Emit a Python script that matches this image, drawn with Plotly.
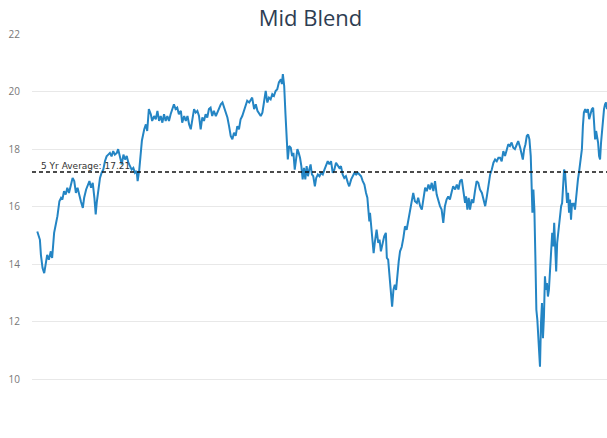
import pandas as pd
import plotly.graph_objects as go

start_date = "2016-01-20"
day_offsets = [
    0, 8, 11, 16, 21, 26, 30, 35, 41, 45, 51, 56, 61, 67, 72, 76, 81, 86, 91, 96,
    101, 107, 112, 117, 122, 127, 132, 138, 142, 148, 153, 158, 163, 168, 173, 177, 180, 185, 190, 195,
    200, 205, 210, 215, 220, 225, 230, 235, 241, 245, 251, 256, 261, 266, 271, 276, 281, 286, 291, 296,
    301, 304, 309, 313, 317, 324, 329, 333, 338, 344, 348, 354, 359, 364, 369, 374, 379, 384, 389, 394,
    399, 404, 409, 414, 419, 424, 429, 435, 439, 445, 450, 455, 460, 465, 470, 475, 480, 485, 490, 495,
    500, 505, 510, 515, 520, 525, 530, 535, 541, 545, 551, 556, 561, 566, 571, 576, 581, 586, 591, 596,
    601, 606, 611, 616, 621, 626, 632, 636, 642, 647, 651, 657, 662, 667, 672, 677, 682, 687, 692, 697,
    702, 707, 712, 717, 722, 727, 732, 738, 741, 744, 748, 752, 756, 759, 763, 768, 772, 776, 780, 784,
    788, 792, 796, 800, 804, 808, 812, 816, 820, 824, 828, 832, 836, 841, 845, 850, 855, 860, 865, 870,
    875, 880, 885, 890, 895, 900, 905, 910, 915, 920, 925, 930, 935, 941, 945, 951, 956, 961, 966, 971,
    976, 981, 986, 991, 996, 1000, 1003, 1006, 1008, 1012, 1016, 1019, 1023, 1028, 1033, 1037, 1041, 1047, 1051, 1056,
    1059, 1063, 1066, 1069, 1072, 1075, 1079, 1083, 1087, 1091, 1095, 1099, 1104, 1109, 1114, 1119, 1124, 1129, 1134, 1139,
    1144, 1150, 1154, 1160, 1165, 1170, 1175, 1180, 1185, 1190, 1195, 1200, 1205, 1210, 1215, 1220, 1225, 1230, 1235, 1240,
    1245, 1250, 1256, 1260, 1266, 1271, 1276, 1281, 1286, 1291, 1296, 1299, 1303, 1307, 1311, 1316, 1321, 1326, 1331, 1336,
    1341, 1347, 1351, 1357, 1362, 1367, 1372, 1377, 1382, 1387, 1392, 1397, 1402, 1407, 1412, 1417, 1422, 1427, 1432, 1437,
    1442, 1447, 1453, 1457, 1463, 1468, 1471, 1475, 1479, 1483, 1487, 1491, 1495, 1498, 1500, 1503, 1506, 1509, 1512, 1515,
    1518, 1521, 1523, 1526, 1529, 1532, 1535, 1538, 1541, 1544, 1547, 1550, 1553, 1557, 1560, 1563, 1566, 1569, 1572, 1575,
    1578, 1581, 1584, 1587, 1590, 1593, 1596, 1599, 1602, 1605, 1608, 1611, 1614, 1617, 1620, 1623, 1626, 1629, 1632, 1635,
    1638, 1641, 1644, 1647, 1650, 1653, 1656, 1660, 1663, 1668, 1672, 1676, 1680, 1684, 1687, 1690, 1693, 1696, 1699, 1702,
    1705, 1708, 1711, 1714, 1717, 1720, 1723, 1726,
]
pe_values = [
    15.14, 14.85, 14.33, 13.87, 13.69, 13.98, 14.33, 14.16, 14.45, 14.22, 15.09, 15.38, 15.67, 16.19, 16.31, 16.25, 16.54, 16.42, 16.66, 16.48,
    16.77, 17.0, 16.89, 16.48, 16.66, 16.36, 16.19, 15.96, 16.31, 16.6, 16.77, 16.89, 16.66, 16.83, 16.31, 15.73, 16.13, 16.66, 17.0, 17.18,
    17.29, 17.58, 17.75, 17.81, 17.87, 17.75, 17.93, 17.81, 17.87, 18.0, 17.76, 17.47, 17.81, 17.64, 17.76, 17.53, 17.41, 17.29, 17.35, 17.18,
    17.24, 16.89, 17.29, 17.9, 18.3, 18.69, 18.86, 18.63, 19.39, 19.21, 18.98, 19.15, 19.04, 19.33, 18.98, 19.15, 18.92, 19.21, 18.98, 19.15,
    18.98, 19.21, 19.39, 19.56, 19.39, 19.44, 19.21, 19.33, 18.92, 19.15, 18.98, 19.15, 18.86, 18.69, 19.04, 19.39, 19.27, 19.33, 19.15, 18.69,
    19.10, 18.98, 19.21, 19.10, 19.39, 19.44, 19.15, 19.33, 19.15, 19.27, 19.39, 19.56, 19.62, 19.44, 19.21, 19.10, 18.80, 18.46, 18.34, 18.57,
    18.46, 18.80, 18.69, 19.04, 19.15, 19.33, 19.62, 19.68, 19.62, 19.73, 19.79, 19.39, 19.56, 19.33, 19.21, 19.15, 19.27, 19.73, 20.02, 19.62,
    19.79, 19.73, 19.91, 19.85, 20.02, 20.08, 20.32, 20.43, 20.26, 20.61, 20.20, 19.2, 18.15, 17.64, 18.11, 18.05, 17.76, 17.87, 17.29, 17.76,
    18.0, 17.87, 17.70, 17.41, 16.95, 17.35, 16.95, 17.41, 17.06, 17.29, 17.47, 17.12, 17.06, 16.71, 17.0, 17.12, 17.06, 17.18, 17.12, 17.29,
    17.41, 17.58, 17.47, 17.58, 17.18, 17.29, 17.53, 17.41, 17.35, 17.41, 17.12, 17.0, 17.06, 16.83, 16.71, 16.95, 17.06, 17.18, 17.12, 17.18,
    17.12, 17.06, 16.89, 16.77, 16.48, 16.31, 15.9, 15.49, 15.79, 15.20, 14.51, 14.39, 14.80, 15.20, 14.74, 14.86, 14.45, 14.74, 14.97, 15.09,
    14.22, 14.16, 13.81, 13.46, 13.0, 12.53, 13.11, 13.29, 13.11, 13.69, 14.10, 14.45, 14.6, 14.91, 15.32, 15.20, 15.55, 15.79, 16.25, 16.48,
    16.19, 16.13, 16.31, 16.02, 15.90, 16.31, 16.66, 16.54, 16.77, 16.60, 16.83, 16.54, 16.89, 16.42, 16.19, 16.02, 15.90, 15.44, 16.02, 16.25,
    16.36, 16.25, 16.54, 16.71, 16.60, 16.77, 16.60, 16.89, 16.95, 16.54, 16.13, 16.36, 15.90, 16.31, 15.90, 16.25, 16.13, 16.54, 16.89, 16.83,
    16.60, 16.48, 16.25, 16.02, 16.36, 16.77, 17.12, 17.29, 17.53, 17.64, 17.58, 17.70, 17.7, 17.58, 17.93, 17.76, 18.0, 18.17, 18.11, 18.23,
    18.05, 18.0, 18.17, 18.28, 18.05, 17.76, 17.64, 18.0, 18.17, 18.46, 18.51, 18.34, 17.76, 16.60, 15.79, 16.60, 15.90, 14.27, 12.42, 12.07,
    11.37, 10.79, 10.44, 11.95, 12.65, 11.43, 12.18, 13.58, 13.11, 13.35, 12.88, 13.11, 13.81, 14.27, 15.09, 14.62, 15.44, 14.62, 13.75, 14.74,
    15.09, 15.20, 15.67, 16.02, 16.13, 16.60, 17.29, 17.18, 16.36, 16.13, 16.48, 15.79, 16.25, 15.55, 16.13, 16.02, 16.13, 15.90, 16.25, 16.71,
    16.95, 17.18, 17.53, 17.87, 18.0, 18.80, 19.27, 19.39, 19.27, 19.39, 19.04, 19.21, 19.39, 19.44, 18.80, 18.34, 18.63, 18.46, 18.23, 17.76,
    17.64, 18.23, 18.69, 19.15, 19.39, 19.56, 19.62, 19.39,
]
avg_value = 17.21
avg_label = "5 Yr Average: 17.21"
title_text = "Mid Blend"
y_ticks = [8, 10, 12, 14, 16, 18, 20, 22]

dates = pd.to_datetime(start_date) + pd.to_timedelta(day_offsets, unit="D")
x_start = pd.to_datetime(start_date) - pd.Timedelta(days=16)
x_end = dates[-1]

fig = go.Figure()
fig.add_trace(go.Scatter(
    x=dates, y=pe_values, mode="lines",
    line=dict(color="#2485c4", width=2),
    hoverinfo="skip", showlegend=False,
))
fig.add_shape(
    type="line", xref="paper", yref="y", x0=0, x1=1, y0=avg_value, y1=avg_value,
    line=dict(color="#111111", width=1.5, dash="4px,3px"),
)
fig.add_annotation(
    xref="paper", yref="y", x=0.012, y=avg_value, text=avg_label,
    showarrow=False, xanchor="left", yanchor="bottom", yshift=-1,
    font=dict(family="DejaVu Sans, sans-serif", size=9, color="#333333"),
)

fig.update_layout(
    width=607, height=438,
    margin=dict(l=32, r=0, t=34, b=1),
    paper_bgcolor="white", plot_bgcolor="white",
    hovermode=False,
    title=dict(
        text=title_text, x=0.5115, xref="container", xanchor="center",
        y=1 - 18 / 438, yref="container", yanchor="middle",
        font=dict(family="Open Sans, sans-serif", size=22, color="#2e3d52"),
    ),
    xaxis=dict(range=[x_start, x_end], visible=False, showgrid=False, zeroline=False),
    yaxis=dict(
        range=[8, 22], tickvals=y_ticks, showgrid=True, gridcolor="#e8e8e8", gridwidth=1,
        zeroline=False, showline=False, ticks="outside", ticklen=9, tickcolor="rgba(0,0,0,0)",
        tickfont=dict(family="Open Sans, DejaVu Sans, sans-serif", size=10, color="#777777"),
    ),
)

fig.write_html(
    "out.html",
    config={"displayModeBar": False, "staticPlot": True},
    post_script="document.body.style.margin='0';document.body.style.overflow='hidden';",
)
